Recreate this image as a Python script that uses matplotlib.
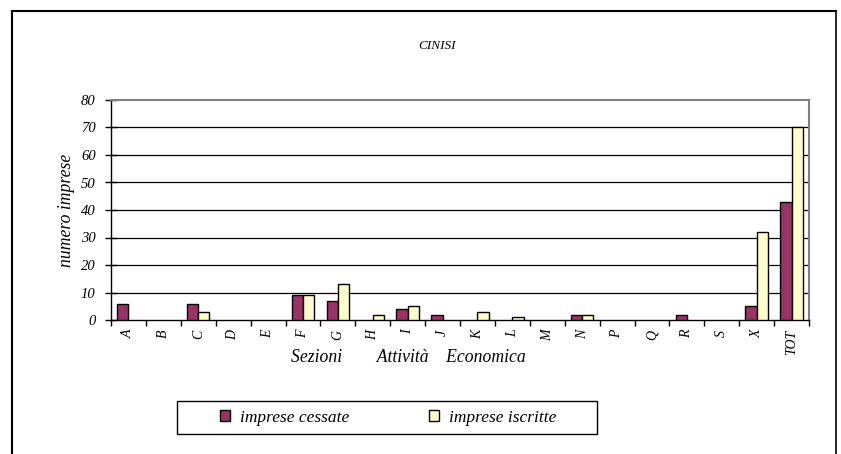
import matplotlib
matplotlib.use("Agg")
import matplotlib.pyplot as plt
from matplotlib.lines import Line2D
from matplotlib.patches import Patch, Rectangle
import numpy as np

categories = ["A", "B", "C", "D", "E", "F", "G", "H", "I", "J", "K", "L",
              "M", "N", "P", "Q", "R", "S", "X", "TOT"]
cessate = [6, 0, 6, 0, 0, 9, 7, 0, 4, 2, 0, 0, 0, 2, 0, 0, 2, 0, 5, 43]
iscritte = [0, 0, 3, 0, 0, 9, 13, 2, 5, 0, 3, 1, 0, 2, 0, 0, 0, 0, 32, 70]
yticks = [0, 10, 20, 30, 40, 50, 60, 70, 80]

plt.rcParams['font.family'] = ['Liberation Serif', 'DejaVu Serif']
plt.rcParams['font.style'] = 'italic'

W, H = 841, 454
fig = plt.figure(figsize=(W / 100, H / 100), dpi=100)
ax = fig.add_axes([111 / W, 1 - 320 / H, (809 - 111) / W, (320 - 100) / H])

x = np.arange(len(categories))
bw = 0.32
lw_c = [1.0 if v > 0 else 0 for v in cessate]
lw_i = [1.0 if v > 0 else 0 for v in iscritte]
ax.bar(x - bw / 2, cessate, bw, color="#993366", edgecolor="black", linewidth=lw_c,
       label="imprese cessate", zorder=3)
ax.bar(x + bw / 2, iscritte, bw, color="#FFFFCC", edgecolor="black", linewidth=lw_i,
       label="imprese iscritte", zorder=3)

ax.set_xlim(-0.5, len(categories) - 0.5)
ax.set_ylim(0, 80)
ax.set_yticks(yticks)
ax.set_yticklabels([str(v) for v in yticks], fontsize=10.5, fontstyle='italic')
for v in yticks[1:-1]:
    ax.axhline(v, color="black", linewidth=0.9, zorder=1)

ax.set_xticks(np.arange(-0.5, len(categories), 1.0))
ax.set_xticklabels([])
ax.set_xticks(x, minor=True)
ax.set_xticklabels(categories, minor=True, rotation=90, fontsize=10, fontstyle='italic',
                   va='top', ha='center')
ax.tick_params(axis='x', which='minor', length=0, pad=7)
ax.tick_params(axis='x', which='major', direction='out', length=4, width=1)
ax.tick_params(axis='y', direction='inout', length=8, width=1, pad=7)

for s in ['top', 'right']:
    ax.spines[s].set_color("#808080")
    ax.spines[s].set_linewidth(1.5)
for s in ['left', 'bottom']:
    ax.spines[s].set_color("black")
    ax.spines[s].set_linewidth(1.0)

ax.set_ylabel("numero imprese", fontsize=12.7, fontstyle='italic', labelpad=4)

fig.text(437 / W, 1 - 46 / H, "CINISI", fontsize=9.5, fontstyle='italic',
         ha='center', va='center')
fig.text(408 / W, 1 - 358 / H, "Sezioni        Attività    Economica", fontsize=12.7,
         fontstyle='italic', ha='center', va='center')

handles = [Patch(facecolor="#993366", edgecolor="black", linewidth=1.0),
           Patch(facecolor="#FFFFCC", edgecolor="black", linewidth=1.0)]
leg = fig.legend(handles, ["imprese cessate", "imprese iscritte"], ncol=2,
                 loc='center', bbox_to_anchor=(388 / W, 1 - 418 / H),
                 frameon=False, handlelength=0.6,
                 handleheight=0.6, columnspacing=4.6, handletextpad=0.55,
                 borderpad=0.2, prop={'style': 'italic', 'size': 12.5})
fig.add_artist(Rectangle((177 / W, 1 - 434 / H), (597 - 177) / W, 33 / H,
                         transform=fig.transFigure, facecolor='none',
                         edgecolor='black', linewidth=1.0))

# outer chart frame
fig.add_artist(Line2D([12 / W, 12 / W], [0, 1 - 11 / H], transform=fig.transFigure,
                      color="black", linewidth=1.5))
fig.add_artist(Line2D([12 / W, 836 / W], [1 - 11 / H, 1 - 11 / H], transform=fig.transFigure,
                      color="black", linewidth=1.5))
fig.add_artist(Line2D([836 / W, 836 / W], [0, 1 - 11 / H], transform=fig.transFigure,
                      color="black", linewidth=1.2))

fig.savefig("out.png", dpi=100)
